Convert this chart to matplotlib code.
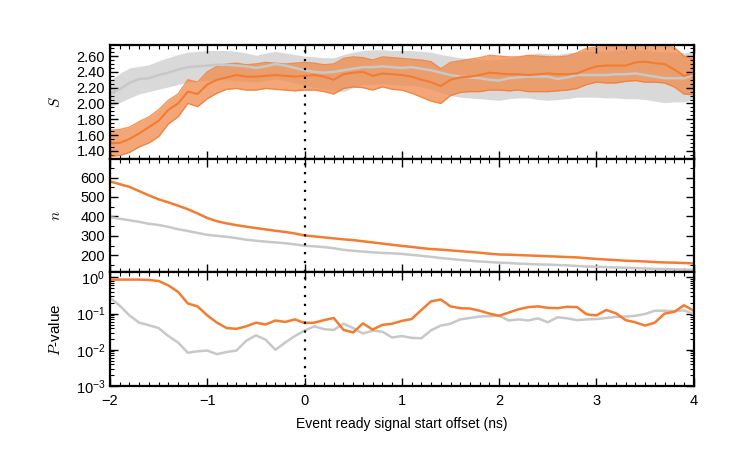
import numpy as np
import matplotlib
matplotlib.use('Agg')
from matplotlib import pyplot as plt
from matplotlib.ticker import MultipleLocator, LogLocator, NullFormatter, FormatStrFormatter

plt.rcParams['font.family'] = ['Liberation Sans', 'DejaVu Sans']
plt.rcParams['mathtext.fontset'] = 'cm'

# offsets (ns), one value every 0.1 ns
offset = np.round(np.arange(-2.0, 4.001, 0.1), 2)

# S, orange series (mean and band)
s_orange = [1.50, 1.50, 1.55, 1.62, 1.70, 1.78, 1.92, 2.00, 2.15, 2.12, 2.24, 2.30, 2.33, 2.36, 2.34, 2.34,
            2.35, 2.36, 2.35, 2.34, 2.35, 2.36, 2.34, 2.30, 2.37, 2.39, 2.40, 2.35, 2.38, 2.37, 2.36, 2.34,
            2.30, 2.27, 2.22, 2.30, 2.33, 2.34, 2.36, 2.39, 2.38, 2.37, 2.37, 2.36, 2.37, 2.38, 2.37, 2.37,
            2.38, 2.43, 2.47, 2.48, 2.48, 2.48, 2.52, 2.53, 2.51, 2.50, 2.43, 2.35, 2.38]
s_orange_hi = [1.66, 1.67, 1.70, 1.77, 1.83, 1.92, 2.04, 2.12, 2.30, 2.27, 2.40, 2.47, 2.50, 2.51, 2.49, 2.50,
               2.52, 2.51, 2.50, 2.51, 2.52, 2.51, 2.49, 2.50, 2.57, 2.59, 2.58, 2.55, 2.59, 2.58, 2.57, 2.56,
               2.55, 2.53, 2.44, 2.52, 2.54, 2.56, 2.58, 2.61, 2.60, 2.59, 2.59, 2.61, 2.60, 2.59, 2.59, 2.60,
               2.64, 2.70, 2.71, 2.72, 2.72, 2.74, 2.75, 2.74, 2.74, 2.73, 2.71, 2.60, 2.56]
s_orange_lo = [1.33, 1.34, 1.38, 1.45, 1.50, 1.58, 1.74, 1.83, 2.00, 1.96, 2.06, 2.13, 2.18, 2.19, 2.17, 2.17,
               2.19, 2.18, 2.17, 2.16, 2.17, 2.17, 2.15, 2.12, 2.19, 2.21, 2.20, 2.17, 2.21, 2.18, 2.17, 2.13,
               2.08, 2.03, 2.00, 2.10, 2.14, 2.15, 2.15, 2.17, 2.17, 2.16, 2.17, 2.15, 2.15, 2.15, 2.16, 2.17,
               2.19, 2.24, 2.27, 2.26, 2.26, 2.28, 2.29, 2.27, 2.27, 2.26, 2.21, 2.12, 2.11]

# S, grey series (mean and band)
s_grey = [2.13, 2.18, 2.26, 2.31, 2.32, 2.36, 2.39, 2.43, 2.46, 2.47, 2.48, 2.49, 2.49, 2.48, 2.47, 2.45,
          2.47, 2.50, 2.48, 2.45, 2.42, 2.40, 2.39, 2.40, 2.42, 2.44, 2.46, 2.46, 2.47, 2.46, 2.45, 2.46,
          2.44, 2.42, 2.39, 2.36, 2.34, 2.33, 2.32, 2.30, 2.29, 2.32, 2.33, 2.34, 2.34, 2.34, 2.31, 2.33,
          2.36, 2.36, 2.36, 2.36, 2.37, 2.37, 2.38, 2.36, 2.34, 2.32, 2.32, 2.32, 2.36]
s_grey_hi = [2.29, 2.38, 2.45, 2.47, 2.49, 2.54, 2.58, 2.62, 2.65, 2.66, 2.67, 2.67, 2.67, 2.66, 2.64, 2.61,
             2.64, 2.66, 2.64, 2.62, 2.60, 2.59, 2.58, 2.58, 2.62, 2.65, 2.67, 2.68, 2.68, 2.67, 2.67, 2.67,
             2.66, 2.65, 2.62, 2.60, 2.58, 2.57, 2.56, 2.55, 2.56, 2.58, 2.60, 2.62, 2.64, 2.63, 2.62, 2.64,
             2.65, 2.66, 2.66, 2.66, 2.67, 2.67, 2.68, 2.67, 2.66, 2.65, 2.65, 2.64, 2.67]
s_grey_lo = [1.96, 2.01, 2.07, 2.12, 2.15, 2.18, 2.21, 2.24, 2.27, 2.28, 2.29, 2.30, 2.30, 2.29, 2.28, 2.27,
             2.29, 2.31, 2.29, 2.26, 2.23, 2.20, 2.18, 2.16, 2.15, 2.20, 2.24, 2.24, 2.25, 2.24, 2.23, 2.23,
             2.21, 2.18, 2.14, 2.10, 2.08, 2.07, 2.06, 2.05, 2.04, 2.06, 2.07, 2.07, 2.05, 2.04, 2.05, 2.06,
             2.08, 2.08, 2.08, 2.07, 2.07, 2.06, 2.06, 2.05, 2.03, 2.01, 2.02, 2.02, 2.05]

# n
n_orange = [580, 566, 552, 530, 508, 488, 472, 455, 437, 415, 392, 375, 364, 355, 347, 340,
            333, 326, 320, 312, 302, 297, 292, 287, 282, 278, 272, 266, 260, 254, 248, 243,
            237, 232, 229, 225, 221, 217, 213, 208, 204, 203, 201, 199, 197, 195, 193, 191,
            189, 185, 181, 178, 175, 172, 170, 168, 165, 163, 162, 160, 158]
n_grey = [396, 388, 380, 372, 362, 356, 346, 334, 325, 315, 305, 300, 295, 288, 280, 275,
          270, 266, 262, 256, 249, 246, 242, 236, 228, 223, 219, 215, 212, 210, 207, 202,
          197, 192, 186, 181, 176, 172, 168, 165, 162, 160, 157, 155, 153, 152, 150, 148,
          145, 142, 141, 139, 137, 136, 134, 132, 130, 129, 128, 126, 125]

# P-value, as decimal exponents
logp_orange = [-0.06, -0.06, -0.06, -0.06, -0.07, -0.10, -0.22, -0.40, -0.72, -0.80, -1.05, -1.25, -1.40, -1.42,
               -1.35, -1.25, -1.30, -1.19, -1.23, -1.16, -1.26, -1.25, -1.18, -1.12, -1.45, -1.52, -1.27, -1.44,
               -1.31, -1.28, -1.20, -1.15, -0.90, -0.66, -0.61, -0.80, -0.85, -0.86, -0.92, -1.00, -1.06, -0.97,
               -0.88, -0.82, -0.80, -0.84, -0.85, -0.81, -0.82, -1.02, -1.05, -0.90, -0.99, -1.18, -1.24, -1.33,
               -1.25, -1.00, -0.95, -0.77, -0.92]
logp_grey = [-0.56, -0.78, -1.05, -1.25, -1.32, -1.40, -1.62, -1.80, -2.08, -2.04, -2.02, -2.12, -2.06, -2.02,
             -1.75, -1.60, -1.72, -2.00, -1.80, -1.62, -1.47, -1.35, -1.43, -1.45, -1.28, -1.40, -1.55, -1.47,
             -1.50, -1.66, -1.62, -1.67, -1.68, -1.46, -1.33, -1.28, -1.16, -1.12, -1.08, -1.07, -1.06, -1.19,
             -1.16, -1.19, -1.13, -1.24, -1.10, -1.13, -1.18, -1.16, -1.15, -1.12, -1.09, -1.08, -1.06, -1.01,
             -0.92, -0.92, -0.93, -0.91, -1.01]

orange = '#f47b30'
orange_fill = '#f08a4b'
grey = '#c8c8c8'
grey_fill = '#d9d9d9'

fig = plt.figure(figsize=(7.31, 4.55), dpi=100)
left, right, top, bottom = 0.1505, 0.949, 0.901, 0.1516
h = (top - bottom) / 3.0
ax1 = fig.add_axes([left, bottom + 2*h, right-left, h])
ax2 = fig.add_axes([left, bottom + h, right-left, h], sharex=ax1)
ax3 = fig.add_axes([left, bottom, right-left, h], sharex=ax1)

# top panel: S with bands
ax1.fill_between(offset, s_grey_lo, s_grey_hi, color=grey_fill, lw=0)
ax1.fill_between(offset, s_orange_lo, s_orange_hi, color=orange_fill, alpha=0.75, lw=0)
ax1.plot(offset, s_orange_hi, color=orange, lw=1.0, alpha=0.8)
ax1.plot(offset, s_orange_lo, color=orange, lw=1.0, alpha=0.8)
ax1.plot(offset, s_grey, color=grey, lw=1.8)
ax1.plot(offset, s_orange, color=orange, lw=1.5)
ax1.set_ylim(1.30, 2.74)
ax1.yaxis.set_major_locator(MultipleLocator(0.2))
ax1.yaxis.set_minor_locator(MultipleLocator(0.05))
ax1.yaxis.set_major_formatter(FormatStrFormatter('%.2f'))
ax1.set_ylabel(r'$S$', fontsize=11)

# middle panel: n
ax2.plot(offset, n_grey, color=grey, lw=1.8)
ax2.plot(offset, n_orange, color=orange, lw=1.8)
ax2.set_ylim(112, 697)
ax2.set_yticks([200, 300, 400, 500, 600])
ax2.yaxis.set_minor_locator(MultipleLocator(50))
ax2.set_ylabel(r'$n$', fontsize=11)

# bottom panel: P-value
ax3.plot(offset, 10**np.array(logp_grey), color=grey, lw=1.8)
ax3.plot(offset, 10**np.array(logp_orange), color=orange, lw=1.8)
ax3.set_yscale('log')
ax3.set_ylim(1e-3, 1.38)
ax3.yaxis.set_major_locator(LogLocator(base=10, numticks=10))
ax3.yaxis.set_minor_locator(LogLocator(base=10, subs=np.arange(2, 10), numticks=10))
ax3.yaxis.set_minor_formatter(NullFormatter())
ax3.set_ylabel(r'$P$-value', fontsize=11)
ax3.set_xlabel('Event ready signal start offset (ns)', fontsize=10, labelpad=6)

ax3.set_xlim(-2, 4)
ax3.xaxis.set_major_locator(MultipleLocator(1))
ax3.xaxis.set_minor_locator(MultipleLocator(0.1))
ax3.set_xticklabels(['', '\u22122', '\u22121', '0', '1', '2', '3', '4'])

for ax in (ax1, ax2, ax3):
    ax.axvline(0, color='black', ls=(0, (1, 3)), lw=1.6)
    ax.tick_params(which='both', direction='in', top=True, right=True, labelsize=10.5)
    ax.tick_params(which='major', length=6, width=1.0)
    ax.tick_params(which='minor', length=3, width=0.8)
    for sp in ax.spines.values():
        sp.set_linewidth(1.6)
    ax.yaxis.set_label_coords(-0.08, 0.5)
for ax in (ax1, ax2):
    plt.setp(ax.get_xticklabels(), visible=False)
ax3.tick_params(axis='x', pad=6)

fig.savefig('out.png', dpi=100)
